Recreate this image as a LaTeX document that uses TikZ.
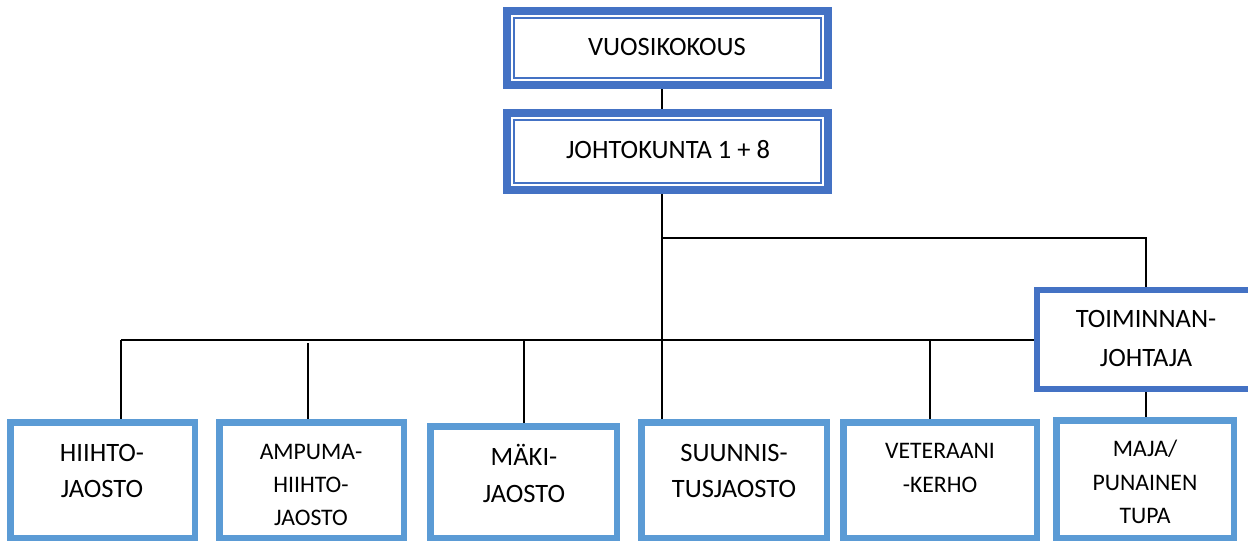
\documentclass[tikz,border=0pt]{standalone}
\usepackage{fontspec}
\setmainfont{Carlito}
\definecolor{dblue}{HTML}{4472C4}
\definecolor{lblue}{HTML}{5B9BD5}
\begin{document}
\begin{tikzpicture}[x=1pt,y=-1pt,
  topbox/.style={draw=dblue, fill=white, line width=8pt, rectangle, inner sep=0pt, minimum width=321pt, minimum height=74pt},
  innerline/.style={draw=dblue, line width=2pt},
  subbox/.style={draw=lblue, fill=white, line width=6.5pt, rectangle, inner sep=0pt},
  midbox/.style={draw=dblue, fill=white, line width=6pt, rectangle, inner sep=0pt},
  conn/.style={draw=black, line width=1.6pt},
  lbl/.style={anchor=base, inner sep=0pt, font=\fontsize{26.5}{30}\selectfont},
  slbl/.style={anchor=base, inner sep=0pt, font=\fontsize{23.7}{27}\selectfont}]
\useasboundingbox (0,0) rectangle (1248,541);
\clip (0,0) rectangle (1248,541);
\fill[white] (0,0) rectangle (1248,541);

% boxes
\node[topbox] (vuosi) at (667.5,48) {};
\node[topbox, minimum height=77pt] (johto) at (667.5,151.5) {};
\draw[innerline] ([shift={(11,11)}]vuosi.north west) rectangle ([shift={(-11,-11)}]vuosi.south east);
\draw[innerline] ([shift={(11,11)}]johto.north west) rectangle ([shift={(-11,-11)}]johto.south east);

\node[midbox, minimum width=220pt, minimum height=99pt] (toim) at (1147,339.5) {};

\node[subbox, minimum width=184.5pt, minimum height=115.5pt] (hiihto) at (102.5,480) {};
\node[subbox, minimum width=184.5pt, minimum height=115.5pt] (ampuma) at (311.5,480) {};
\node[subbox, minimum width=186.5pt, minimum height=111.5pt] (maki) at (523.5,482) {};
\node[subbox, minimum width=185.5pt, minimum height=115.5pt] (suunnis) at (734,480) {};
\node[subbox, minimum width=193.5pt, minimum height=115.5pt] (vet) at (940,480) {};
\node[subbox, minimum width=177.5pt, minimum height=117.5pt] (maja) at (1145,479) {};

% connector points
\coordinate (trunk) at (662,0);
\coordinate (b1) at (662,238);
\coordinate (b2) at (1146,238);
\coordinate (bus) at (121,340);
\coordinate (a1) at (308,343);
\coordinate (m1) at (524,340);
\coordinate (v1) at (930,340);

% connectors
\draw[conn] (vuosi.south -| trunk) -- (johto.north -| trunk);
\draw[conn] (johto.south -| trunk) -- (suunnis.north -| trunk);
\draw[conn] (b1) -- (b2) -- (b2 |- toim.north);
\draw[conn] (bus) -- (bus -| toim.west);
\draw[conn] (bus) -- (bus |- hiihto.north);
\draw[conn] (a1) -- (a1 |- ampuma.north);
\draw[conn] (m1) -- (m1 |- maki.north);
\draw[conn] (v1) -- (v1 |- vet.north);
\draw[conn] (b2 |- toim.south) -- (b2 |- maja.north);

% texts
\node[lbl] (vuosiT) at (667,55) {VUOSIKOKOUS};
\node[lbl] (johtoT) at (668,158) {JOHTOKUNTA 1 + 8};
\node[lbl] (hiihtoA) at (102,461) {HIIHTO-};
\node[lbl] (hiihtoB) at (102,497) {JAOSTO};
\node[slbl] (ampumaA) at (311,459) {AMPUMA-};
\node[slbl] (ampumaB) at (311,492) {HIIHTO-};
\node[slbl] (ampumaC) at (311,525) {JAOSTO};
\node[lbl] (makiA) at (524,465) {MÄKI-};
\node[lbl] (makiB) at (524,502) {JAOSTO};
\node[lbl] (suunnisA) at (734,461) {SUUNNIS-};
\node[lbl] (suunnisB) at (734,497) {TUSJAOSTO};
\node[slbl] (vetA) at (940,458) {VETERAANI};
\node[slbl] (vetB) at (940,492) {-KERHO};
\node[lbl] (toimA) at (1146,327) {TOIMINNAN-};
\node[lbl] (toimB) at (1146,366) {JOHTAJA};
\node[slbl] (majaA) at (1145,456) {MAJA/};
\node[slbl] (majaB) at (1145,490) {PUNAINEN};
\node[slbl] (majaC) at (1145,523) {TUPA};
\end{tikzpicture}
\end{document}
